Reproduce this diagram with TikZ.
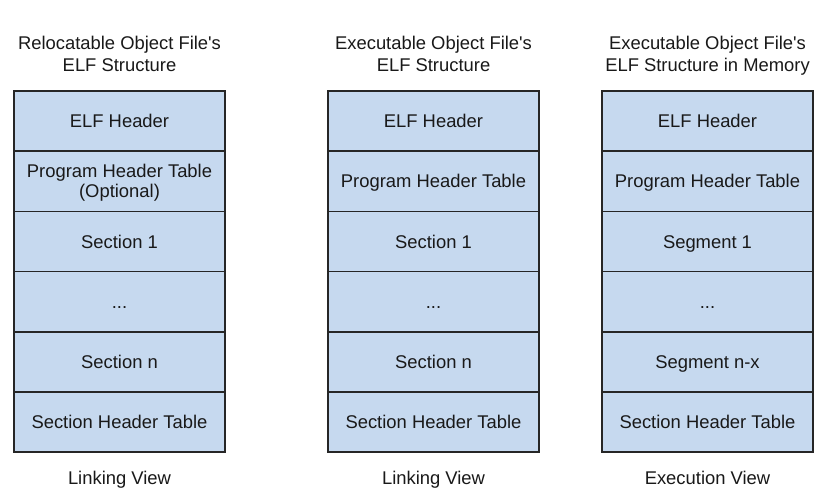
\documentclass[tikz,border=0pt]{standalone}
\usepackage{fontspec}
\setmainfont{Liberation Sans}
\begin{document}
\begin{tikzpicture}[x=1pt,y=-1pt,
  cell/.style={draw=black!85, line width=1.6pt, fill=cellblue, minimum width=211pt, minimum height=60.2pt, inner sep=0pt, align=center, font=\fontsize{18.4}{20}\selectfont, text=black!90, text height=13.2pt, text depth=0pt},
  twoline/.style={text height=33.2pt},
  ttl/.style={align=center, font=\fontsize{18.4}{22}\selectfont, text=black!90, inner sep=0pt, text height=35.2pt, text depth=0pt},
  lbl/.style={font=\fontsize{18.4}{22}\selectfont, text=black!90, inner sep=0pt, text height=13.2pt, text depth=0pt}]
\definecolor{cellblue}{HTML}{C6D9EF}
\useasboundingbox (0,0) rectangle (821,497);
\fill[white] (0,0) rectangle (821,497);
% column 1
\node[ttl] (t1) at (119.5,54) {Relocatable Object File\textquotesingle s\\ELF Structure};
\node[cell] (a1) at (119.5,121.1) {ELF Header};
\node[cell,twoline] (a2) at (119.5,181.3) {Program Header Table\\(Optional)};
\node[cell] (a3) at (119.5,241.5) {Section 1};
\node[cell] (a4) at (119.5,301.7) {...};
\node[cell] (a5) at (119.5,361.9) {Section n};
\node[cell] (a6) at (119.5,422.1) {Section Header Table};
\node[lbl] (l1) at (119.5,478) {Linking View};
% column 2
\node[ttl] (t2) at (433.5,54) {Executable Object File\textquotesingle s\\ELF Structure};
\node[cell] (b1) at (433.5,121.1) {ELF Header};
\node[cell] (b2) at (433.5,181.3) {Program Header Table};
\node[cell] (b3) at (433.5,241.5) {Section 1};
\node[cell] (b4) at (433.5,301.7) {...};
\node[cell] (b5) at (433.5,361.9) {Section n};
\node[cell] (b6) at (433.5,422.1) {Section Header Table};
\node[lbl] (l2) at (433.5,478) {Linking View};
% column 3
\node[ttl] (t3) at (707.5,54) {Executable Object File\textquotesingle s\\ELF Structure in Memory};
\node[cell] (c1) at (707.5,121.1) {ELF Header};
\node[cell] (c2) at (707.5,181.3) {Program Header Table};
\node[cell] (c3) at (707.5,241.5) {Segment 1};
\node[cell] (c4) at (707.5,301.7) {...};
\node[cell] (c5) at (707.5,361.9) {Segment n-x};
\node[cell] (c6) at (707.5,422.1) {Section Header Table};
\node[lbl] (l3) at (707.5,478) {Execution View};
\end{tikzpicture}
\end{document}
